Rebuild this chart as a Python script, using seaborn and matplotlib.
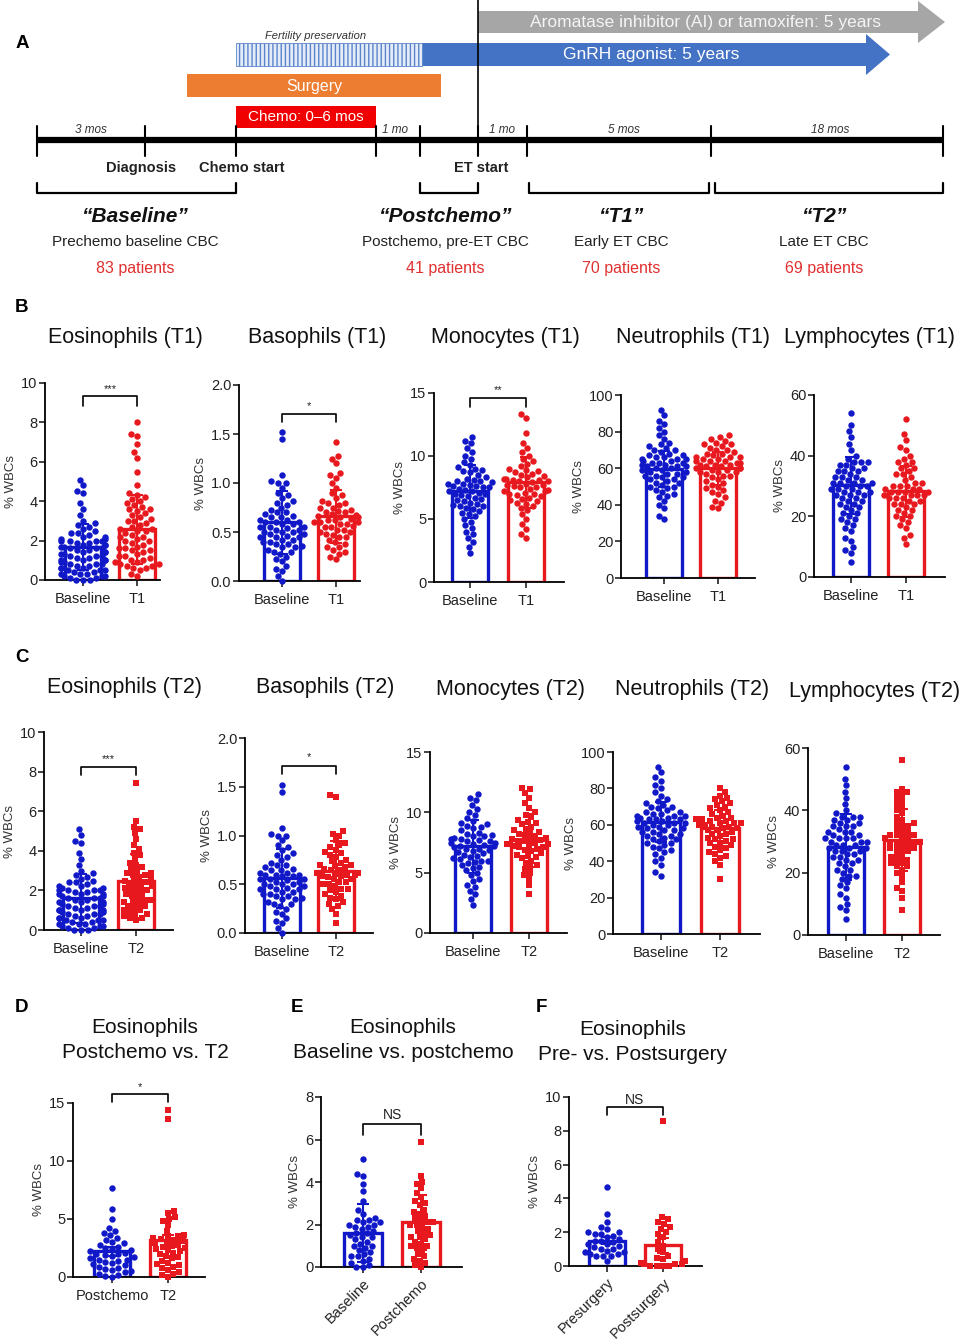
import warnings
warnings.filterwarnings("ignore")
import numpy as np
import pandas as pd
import matplotlib
matplotlib.use("Agg")
import matplotlib.pyplot as plt
from matplotlib.patches import Rectangle, Polygon
from matplotlib.ticker import FormatStrFormatter
import seaborn as sns

# ---------------- data ----------------
eos_base = [0.0, 0.0, 0.0, 0.1, 0.1, 0.2, 0.2, 0.2, 0.3, 0.3, 0.3, 0.4, 0.4, 0.5, 0.5, 0.5, 0.6, 0.6, 0.6,
            0.7, 0.7, 0.8, 0.8, 0.8, 0.9, 0.9, 1.0, 1.0, 1.0, 1.0, 1.1, 1.1, 1.2, 1.2, 1.2, 1.3, 1.3, 1.4,
            1.4, 1.4, 1.5, 1.5, 1.6, 1.6, 1.6, 1.7, 1.7, 1.8, 1.8, 1.8, 1.9, 1.9, 2.0, 2.0, 2.0, 2.0, 2.1,
            2.1, 2.2, 2.2, 2.3, 2.4, 2.4, 2.5, 2.6, 2.7, 2.8, 2.9, 3.0, 3.3, 3.6, 3.9, 4.4, 4.5, 4.8, 5.1]
eos_t1 = [0.2, 0.3, 0.5, 0.6, 0.6, 0.7, 0.7, 0.8, 0.8, 0.9, 0.9, 1.0, 1.0, 1.1, 1.2, 1.2, 1.3, 1.4, 1.5,
          1.5, 1.6, 1.6, 1.7, 1.8, 1.9, 2.0, 2.0, 2.1, 2.2, 2.2, 2.3, 2.4, 2.5, 2.5, 2.6, 2.6, 2.7, 2.8,
          2.9, 3.0, 3.0, 3.1, 3.2, 3.3, 3.4, 3.5, 3.6, 3.6, 3.7, 3.8, 3.9, 4.0, 4.1, 4.2, 4.3, 4.4, 4.8,
          5.5, 6.2, 6.5, 6.9, 7.3, 7.4, 8.0]
eos_t2 = [0.5, 0.6, 0.6, 0.7, 0.8, 0.8, 0.9, 1.0, 1.0, 1.1, 1.2, 1.2, 1.3, 1.4, 1.4, 1.5, 1.5, 1.6, 1.7,
          1.8, 1.8, 1.9, 2.0, 2.0, 2.1, 2.1, 2.2, 2.2, 2.3, 2.4, 2.4, 2.5, 2.5, 2.6, 2.7, 2.8, 2.8, 2.9,
          2.9, 3.0, 3.1, 3.2, 3.3, 3.4, 3.6, 3.8, 3.9, 4.1, 4.3, 4.6, 4.9, 5.1, 5.2, 5.5, 7.4]
baso_base = [0.0, 0.05, 0.1, 0.12, 0.15, 0.2, 0.22, 0.25, 0.28, 0.3, 0.3, 0.32, 0.35, 0.35, 0.38, 0.38, 0.4,
             0.4, 0.42, 0.42, 0.45, 0.45, 0.45, 0.48, 0.48, 0.5, 0.5, 0.5, 0.52, 0.52, 0.55, 0.55, 0.55, 0.58,
             0.58, 0.6, 0.6, 0.62, 0.62, 0.65, 0.65, 0.68, 0.7, 0.7, 0.72, 0.75, 0.78, 0.8, 0.82, 0.85, 0.88,
             0.9, 0.95, 1.0, 1.0, 1.02, 1.08, 1.45, 1.52, 0.46, 0.54, 0.6, 0.66, 0.36]
baso_t1 = [0.22, 0.25, 0.28, 0.3, 0.32, 0.35, 0.35, 0.38, 0.4, 0.42, 0.45, 0.45, 0.48, 0.5, 0.5, 0.52, 0.52,
           0.55, 0.55, 0.58, 0.58, 0.6, 0.6, 0.6, 0.62, 0.62, 0.65, 0.65, 0.66, 0.68, 0.7, 0.7, 0.72, 0.74,
           0.75, 0.78, 0.8, 0.82, 0.85, 0.88, 0.9, 0.95, 1.0, 1.05, 1.08, 1.1, 1.2, 1.25, 1.28, 1.42, 0.56,
           0.63, 0.67, 0.71, 0.47, 0.8]
baso_t2 = [0.1, 0.2, 0.25, 0.28, 0.3, 0.32, 0.35, 0.38, 0.4, 0.42, 0.45, 0.45, 0.48, 0.5, 0.5, 0.52, 0.55,
           0.55, 0.58, 0.6, 0.6, 0.62, 0.62, 0.65, 0.65, 0.68, 0.7, 0.7, 0.72, 0.75, 0.78, 0.8, 0.82, 0.85,
           0.88, 0.9, 0.92, 0.95, 1.0, 1.02, 1.05, 1.4, 1.42, 0.36, 0.57, 0.66, 0.74, 0.44, 0.52, 0.61, 0.69,
           0.83, 0.58]
mono_base = [2.3, 2.8, 3.2, 3.5, 3.8, 4.0, 4.3, 4.5, 4.8, 5.0, 5.2, 5.4, 5.5, 5.6, 5.8, 6.0, 6.1, 6.2, 6.3,
             6.5, 6.6, 6.8, 6.9, 7.0, 7.0, 7.1, 7.2, 7.3, 7.4, 7.5, 7.5, 7.6, 7.7, 7.8, 7.8, 7.9, 8.0, 8.0,
             8.1, 8.3, 8.5, 8.7, 8.9, 9.1, 9.3, 9.5, 9.8, 10.0, 10.3, 10.6, 11.0, 11.2, 11.5, 6.4, 6.7, 7.2,
             7.6, 5.9, 8.2, 8.8, 6.0, 9.0]
mono_t1 = [3.5, 3.8, 4.2, 4.6, 5.0, 5.4, 5.7, 5.9, 6.0, 6.2, 6.4, 6.5, 6.6, 6.8, 6.9, 7.0, 7.1, 7.2, 7.2,
           7.3, 7.4, 7.5, 7.5, 7.6, 7.7, 7.8, 7.9, 8.0, 8.0, 8.1, 8.2, 8.2, 8.3, 8.4, 8.5, 8.6, 8.7, 8.8,
           9.0, 9.2, 9.4, 9.6, 9.8, 10.0, 10.3, 10.6, 11.0, 11.8, 13.0, 13.3, 6.3, 7.0, 7.7, 8.1, 8.9, 6.7]
mono_t2 = [3.2, 4.0, 4.5, 4.8, 5.0, 5.3, 5.6, 5.8, 6.0, 6.2, 6.3, 6.4, 6.6, 6.8, 6.9, 7.0, 7.1, 7.2, 7.3,
           7.4, 7.4, 7.5, 7.6, 7.6, 7.7, 7.8, 7.9, 8.0, 8.1, 8.2, 8.3, 8.4, 8.6, 8.8, 9.0, 9.2, 9.4, 9.6,
           9.8, 10.0, 10.4, 10.8, 11.2, 11.6, 11.9, 12.0, 6.5, 7.1, 7.8, 8.5, 5.5, 9.1]
neut_base = [32, 34, 38, 40, 42, 44, 45, 46, 47, 48, 49, 50, 50, 51, 52, 52, 53, 54, 55, 55, 56, 57, 57,
             58, 58, 59, 60, 60, 61, 61, 62, 62, 63, 63, 64, 64, 65, 65, 66, 66, 67, 68, 69, 70, 71, 72, 73,
             74, 76, 78, 80, 82, 84, 86, 89, 92, 54, 59, 63, 67, 56, 61, 65, 70]
neut_t1 = [38, 39, 41, 42, 44, 46, 47, 48, 50, 51, 52, 53, 54, 55, 56, 57, 58, 58, 58, 59, 60, 60, 60, 61,
           61, 62, 62, 62, 63, 63, 64, 64, 64, 65, 65, 66, 66, 66, 67, 68, 69, 70, 70, 71, 72, 73, 74, 75,
           76, 77, 78, 49, 56, 68, 73, 59]
neut_t2 = [30, 38, 40, 42, 43, 44, 45, 46, 47, 48, 49, 50, 50, 51, 52, 52, 53, 54, 55, 55, 56, 57, 57, 58,
           58, 59, 59, 60, 60, 61, 61, 61, 62, 62, 63, 63, 64, 64, 65, 66, 67, 68, 69, 70, 71, 72, 73, 74,
           75, 76, 78, 80]
lymph_base = [5, 8, 9, 10, 12, 13, 15, 16, 17, 18, 19, 20, 21, 21, 22, 23, 24, 24, 25, 26, 26, 27, 27, 27,
              28, 28, 29, 29, 29, 30, 30, 30, 31, 31, 31, 32, 32, 33, 33, 34, 35, 35, 36, 36, 37, 37, 38, 38,
              39, 40, 42, 44, 46, 48, 50, 54, 23, 28, 33, 38, 19, 35, 25, 31]
lymph_t1 = [11, 13, 14, 16, 17, 18, 19, 20, 21, 22, 22, 23, 24, 24, 25, 25, 26, 26, 26, 27, 27, 27, 28, 28,
            28, 28, 29, 29, 29, 30, 30, 30, 31, 32, 33, 34, 35, 36, 36, 37, 38, 39, 40, 42, 43, 45, 47, 52,
            20, 24, 31, 34, 38, 27]
lymph_t2 = [8, 12, 14, 15, 17, 19, 20, 21, 22, 23, 23, 24, 25, 25, 26, 27, 28, 28, 28, 29, 29, 30, 30, 30,
            31, 31, 32, 32, 32, 33, 33, 34, 35, 36, 36, 37, 38, 39, 40, 41, 42, 43, 44, 45, 46, 46, 47, 56,
            22, 27, 31, 35, 24, 30]

postchemo_d = [0.0, 0.1, 0.2, 0.3, 0.4, 0.5, 0.6, 0.7, 0.8, 0.9, 1.0, 1.1, 1.2, 1.3, 1.4, 1.5, 1.5, 1.6, 1.7,
               1.8, 1.9, 2.0, 2.0, 2.1, 2.2, 2.3, 2.4, 2.5, 2.6, 2.8, 2.9, 3.0, 3.2, 3.4, 3.6, 3.8, 4.0, 4.2,
               5.0, 5.9, 7.7]
t2_d = [0.0, 0.2, 0.3, 0.4, 0.6, 0.8, 0.9, 1.0, 1.1, 1.2, 1.4, 1.6, 1.7, 1.8, 2.0, 2.1, 2.2, 2.3, 2.4, 2.5,
        2.6, 2.7, 2.8, 2.9, 3.0, 3.1, 3.2, 3.3, 3.4, 3.5, 3.5, 3.6, 4.0, 4.5, 4.8, 5.0, 5.2, 5.5, 5.7, 13.6, 14.4]
base_e = [0.0, 0.0, 0.1, 0.2, 0.3, 0.4, 0.5, 0.5, 0.6, 0.7, 0.8, 0.9, 1.0, 1.0, 1.1, 1.2, 1.3, 1.4, 1.4, 1.5,
          1.6, 1.6, 1.7, 1.8, 1.9, 1.9, 2.0, 2.0, 2.1, 2.1, 2.2, 2.2, 2.3, 2.5, 2.7, 3.1, 3.6, 3.9, 4.3, 4.4, 5.1]
postchemo_e = [0.0, 0.1, 0.2, 0.3, 0.4, 0.5, 0.6, 0.8, 0.9, 1.0, 1.0, 1.1, 1.2, 1.3, 1.4, 1.4, 1.5, 1.6, 1.7,
               1.8, 1.9, 2.0, 2.0, 2.1, 2.1, 2.2, 2.3, 2.4, 2.5, 2.6, 2.7, 2.9, 3.0, 3.1, 3.3, 3.5, 3.7, 3.9,
               4.0, 4.3, 5.9]
presurg_f = [0.3, 0.6, 0.6, 0.6, 0.7, 0.7, 0.8, 0.8, 0.9, 1.0, 1.0, 1.1, 1.2, 1.3, 1.3, 1.4, 1.5, 1.5, 1.6,
             1.7, 1.8, 1.9, 1.9, 2.0, 2.0, 2.2, 2.3, 2.6, 3.1, 4.7]
postsurg_f = [0.0, 0.0, 0.0, 0.0, 0.1, 0.1, 0.1, 0.2, 0.3, 0.4, 0.5, 0.6, 0.8, 1.0, 1.2, 1.4, 1.7, 1.9, 2.0,
              2.2, 2.3, 2.5, 2.6, 2.8, 2.9, 8.6]

# bar heights (means) and error bars
means_T1 = {"eos": [1.68, 2.58], "baso": [0.6, 0.66], "mono": [7.2, 7.9], "neut": [59.5, 60.0], "lymph": [30.2, 28.2]}
sds_T1 = {"eos": [1.15, 1.75], "baso": [0.32, 0.27], "mono": [2.1, 2.0], "neut": [10.0, 9.0], "lymph": [9.5, 8.5]}
means_T2 = {"eos": [1.6, 2.45], "baso": [0.56, 0.64], "mono": [7.2, 7.7], "neut": [61.5, 58.2], "lymph": [28.2, 30.5]}
sds_T2 = {"eos": [1.25, 1.4], "baso": [0.3, 0.3], "mono": [2.2, 2.2], "neut": [11.0, 10.0], "lymph": [10.5, 10.0]}
means_DEF = {"D": [2.2, 3.15], "E": [1.6, 2.1], "F": [1.5, 1.22]}
errs_DEF = {"D": [0.35, 0.45], "E": [1.35, 1.3], "F": [0.2, 0.44]}

cells = ["eos", "baso", "mono", "neut", "lymph"]
cell_names = ["Eosinophils", "Basophils", "Monocytes", "Neutrophils", "Lymphocytes"]
base_vals = {"eos": eos_base, "baso": baso_base, "mono": mono_base, "neut": neut_base, "lymph": lymph_base}
t1_vals = {"eos": eos_t1, "baso": baso_t1, "mono": mono_t1, "neut": neut_t1, "lymph": lymph_t1}
t2_vals = {"eos": eos_t2, "baso": baso_t2, "mono": mono_t2, "neut": neut_t2, "lymph": lymph_t2}
ymax = {"eos": 10, "baso": 2.0, "mono": 15, "neut": 100, "lymph": 60}
ystep = {"eos": 2, "baso": 0.5, "mono": 5, "neut": 20, "lymph": 20}

phase_names = ["\u201cBaseline\u201d", "\u201cPostchemo\u201d", "\u201cT1\u201d", "\u201cT2\u201d"]
phase_desc = ["Prechemo baseline CBC", "Postchemo, pre-ET CBC", "Early ET CBC", "Late ET CBC"]
phase_n = ["83 patients", "41 patients", "70 patients", "69 patients"]
durations = ["3 mos", "1 mo", "1 mo", "5 mos", "18 mos"]
events = ["Diagnosis", "Chemo start", "ET start"]

# ---------------- style ----------------
sns.set_theme(style="ticks")
plt.rcParams['font.family'] = ['Liberation Sans', 'DejaVu Sans']
NARROW = ['Liberation Sans Narrow', 'Liberation Sans', 'DejaVu Sans']
BLUE = '#1018C8'
RED = '#E8191E'
W, H = 960, 1340
fig = plt.figure(figsize=(9.6, 13.4), dpi=100)
fig.patch.set_facecolor('white')


def fx(x):
    return x / W


def fy(y):
    return 1 - y / H


# ---------------- panel A ----------------
axA = fig.add_axes([0, fy(290), 1, 290 / H])
axA.set_xlim(0, W)
axA.set_ylim(290, 0)
axA.axis('off')
axA.add_patch(Polygon([(478, 11), (918, 11), (918, 1), (945, 22), (918, 43), (918, 33), (478, 33)],
                      closed=True, facecolor='#A6A6A6', lw=0))
axA.text(705, 22, "Aromatase inhibitor (AI) or tamoxifen: 5 years", color='#F4F4F4', fontsize=12.5,
         ha='center', va='center', family=NARROW)
axA.add_patch(Polygon([(422, 43), (866, 43), (866, 34), (890, 54.5), (866, 75), (866, 66), (422, 66)],
                      closed=True, facecolor='#4472C4', lw=0))
axA.add_patch(Rectangle((236, 43), 186, 23, facecolor='#E4ECF7', edgecolor='#5B84CC', hatch='||||', lw=0.6))
axA.text(651, 54.5, "GnRH agonist: 5 years", color='white', fontsize=12.5, ha='center', va='center', family=NARROW)
axA.text(316, 36, "Fertility preservation", fontsize=8, style='italic', ha='center', va='center',
         color='#333333', family=NARROW)
axA.add_patch(Rectangle((187, 74), 254, 23, facecolor='#ED7D31', lw=0))
axA.text(314, 86, "Surgery", color='white', fontsize=11.5, ha='center', va='center', family=NARROW)
axA.add_patch(Rectangle((236, 106), 140, 22, facecolor='#F00000', lw=0))
axA.text(306, 117, "Chemo: 0\u20136 mos", color='white', fontsize=11, ha='center', va='center', family=NARROW)
axA.plot([478, 478], [0, 150], color='black', lw=1.2)
axA.plot([37, 943], [140, 140], color='black', lw=4.5, solid_capstyle='butt')
for xt in [37, 145, 236, 376, 420, 478, 527, 711, 943]:
    axA.plot([xt, xt], [126, 156], color='black', lw=1.5)
for txt, xc in zip(durations, [91, 395, 502, 624, 830]):
    axA.text(xc, 130, txt, fontsize=8.5, style='italic', ha='center', va='center', color='#333333', family=NARROW)
for txt, xc in zip(events, [141, 242, 481]):
    axA.text(xc, 168, txt, fontsize=10.5, weight='bold', ha='center', va='center', color='#222222', family=NARROW)
for (a, b) in [(37, 236), (420, 478), (529, 709), (715, 943)]:
    axA.plot([a, a, b, b], [183, 193, 193, 183], color='black', lw=1.6)
for nm, ds, nn, xc in zip(phase_names, phase_desc, phase_n, [135, 445, 621, 824]):
    axA.text(xc, 216, nm, fontsize=15, weight='bold', style='italic', ha='center', va='center',
             color='#111111', family=NARROW)
    axA.text(xc, 242, ds, fontsize=11, ha='center', va='center', color='#222222', family=NARROW)
    axA.text(xc, 268, nn, fontsize=11.5, ha='center', va='center', color='#E03030', family=NARROW)

# ---------------- bar/dot panels ----------------

def draw_panel(L, top, bottom, c0, c1, R, groups, vals0, vals1, means, errs, ymx, step,
               marker1='o', sig=None, rotate=False, fmt='%d'):
    unit = c1 - c0
    ax = fig.add_axes([fx(L), fy(bottom), (R - L) / W, (bottom - top) / H])
    df_bar = pd.DataFrame({"group": groups, "mean": means})
    sns.barplot(data=df_bar, x="group", y="mean", hue="group", order=groups, hue_order=groups,
                palette=[BLUE, RED], fill=False, linewidth=2.4, width=0.66, legend=False,
                errorbar=None, ax=ax)
    d0 = pd.DataFrame({"group": groups[0], "v": vals0})
    d1 = pd.DataFrame({"group": groups[1], "v": vals1})
    sns.swarmplot(data=d0, x="group", y="v", order=groups, color=BLUE, size=4.6, marker='o',
                  linewidth=0, ax=ax, zorder=3)
    sns.swarmplot(data=d1, x="group", y="v", order=groups, color=RED, size=4.6 if marker1 == 'o' else 4.3,
                  marker=marker1, linewidth=0, ax=ax, zorder=3)
    for coll in ax.collections:
        coll.set_clip_on(False)
    for i, col in enumerate([BLUE, RED]):
        ax.errorbar(i, means[i], yerr=errs[i], fmt='none', ecolor=col, elinewidth=1.5,
                    capsize=4, capthick=1.5, zorder=4, clip_on=False)
    ax.set_xlim(-(c0 - L) / unit, 1 + (R - c1) / unit)
    ax.set_ylim(0, ymx)
    ax.set_yticks(np.arange(0, ymx + step / 2, step))
    ax.yaxis.set_major_formatter(FormatStrFormatter(fmt))
    sns.despine(ax=ax)
    for s in ['left', 'bottom']:
        ax.spines[s].set_linewidth(1.3)
        ax.spines[s].set_color('black')
    ax.tick_params(axis='y', length=4, width=1.2, labelsize=10.5, colors='#222222', pad=1.5)
    ax.tick_params(axis='x', length=4, width=1.2, labelsize=10.5, colors='#222222', pad=4.5)
    ax.set_xlabel('')
    ax.set_ylabel('% WBCs', fontsize=9.5, color='#333333', labelpad=3)
    if rotate:
        ax.set_xticks([0, 1])
        ax.set_xticklabels(groups, rotation=45, ha='right', rotation_mode='anchor')
        ax.tick_params(axis='x', pad=3)
    if sig is not None:
        txt, yb, yd, yt = sig
        ax.plot([0, 0, 1, 1], [yd, yb, yb, yd], color='black', lw=1.2, clip_on=False)
        ax.text(0.5, yt, txt, ha='center', va='center', fontsize=8 if '*' in txt else 10,
                color='#222222', clip_on=False)
    return ax


TITLE_FS = 15.5

# row B: (L, top, bottom, c0, c1, R)
geomB = [(45, 383, 580, 83, 137, 160), (239, 385, 581, 282, 336, 360), (434, 393, 582, 470, 526, 564),
         (621, 395, 578, 664, 718, 755), (814, 395, 577, 851, 906, 945)]
titleB_x = [125, 317, 505, 693, 870]
sigB = {"eos": ("***", 9.34, 8.83, 9.7), "baso": ("*", 1.707, 1.62, 1.78), "mono": ("**", 14.6, 13.9, 15.25)}
for k, (cell, nm) in enumerate(zip(cells, cell_names)):
    g = geomB[k]
    draw_panel(*g, ["Baseline", "T1"], base_vals[cell], t1_vals[cell], means_T1[cell], sds_T1[cell],
               ymax[cell], ystep[cell], marker1='o', sig=sigB.get(cell),
               fmt='%.1f' if cell == 'baso' else '%d')
    fig.text(fx(titleB_x[k]), fy(338), f"{nm} (T1)", ha='center', va='center', fontsize=TITLE_FS, color='#111111')

geomC = [(44, 732, 930, 81, 136, 173), (245, 738, 933, 282, 336, 373), (430, 752, 933, 473, 529, 567),
         (613, 752, 934, 661, 720, 760), (808, 748, 935, 846, 902, 940)]
titleC_x = [124, 325, 510, 692, 875]
titleC_y = [688, 688, 689, 689, 691]
sigC = {"eos": ("***", 8.23, 7.83, 8.65), "baso": ("*", 1.71, 1.63, 1.8)}
for k, (cell, nm) in enumerate(zip(cells, cell_names)):
    g = geomC[k]
    draw_panel(*g, ["Baseline", "T2"], base_vals[cell], t2_vals[cell], means_T2[cell], sds_T2[cell],
               ymax[cell], ystep[cell], marker1='s', sig=sigC.get(cell),
               fmt='%.1f' if cell == 'baso' else '%d')
    fig.text(fx(titleC_x[k]), fy(titleC_y[k]), f"{nm} (T2)", ha='center', va='center', fontsize=TITLE_FS,
             color='#111111')

# D, E, F
draw_panel(73, 1103, 1277, 112, 168, 205, ["Postchemo", "T2"], postchemo_d, t2_d, means_DEF["D"],
           errs_DEF["D"], 15, 5, marker1='s', sig=("*", 15.78, 15.1, 16.4))
fig.text(fx(145), fy(1040), "Eosinophils\nPostchemo vs. T2", ha='center', va='center', fontsize=15,
         linespacing=1.35, color='#111111')
draw_panel(321, 1097, 1267, 363, 421, 462, ["Baseline", "Postchemo"], base_e, postchemo_e, means_DEF["E"],
           errs_DEF["E"], 8, 2, marker1='s', sig=("NS", 6.73, 6.2, 7.15), rotate=True)
fig.text(fx(403), fy(1040), "Eosinophils\nBaseline vs. postchemo", ha='center', va='center', fontsize=15,
         linespacing=1.35, color='#111111')
draw_panel(569, 1097, 1266, 607, 663, 702, ["Presurgery", "Postsurgery"], presurg_f, postsurg_f,
           means_DEF["F"], errs_DEF["F"], 10, 2, marker1='s', sig=("NS", 9.41, 8.93, 9.8), rotate=True)
fig.text(fx(633), fy(1042), "Eosinophils\nPre- vs. Postsurgery", ha='center', va='center', fontsize=15,
         linespacing=1.35, color='#111111')

# panel letters
for lt, x, y in [("A", 22, 43), ("B", 22, 308), ("C", 22, 658), ("D", 22, 1008), ("E", 297, 1008),
                 ("F", 541, 1008)]:
    fig.text(fx(x), fy(y), lt, fontsize=13.5, weight='bold', ha='center', va='center', color='black')

fig.savefig("out.png", dpi=100, facecolor='white')
